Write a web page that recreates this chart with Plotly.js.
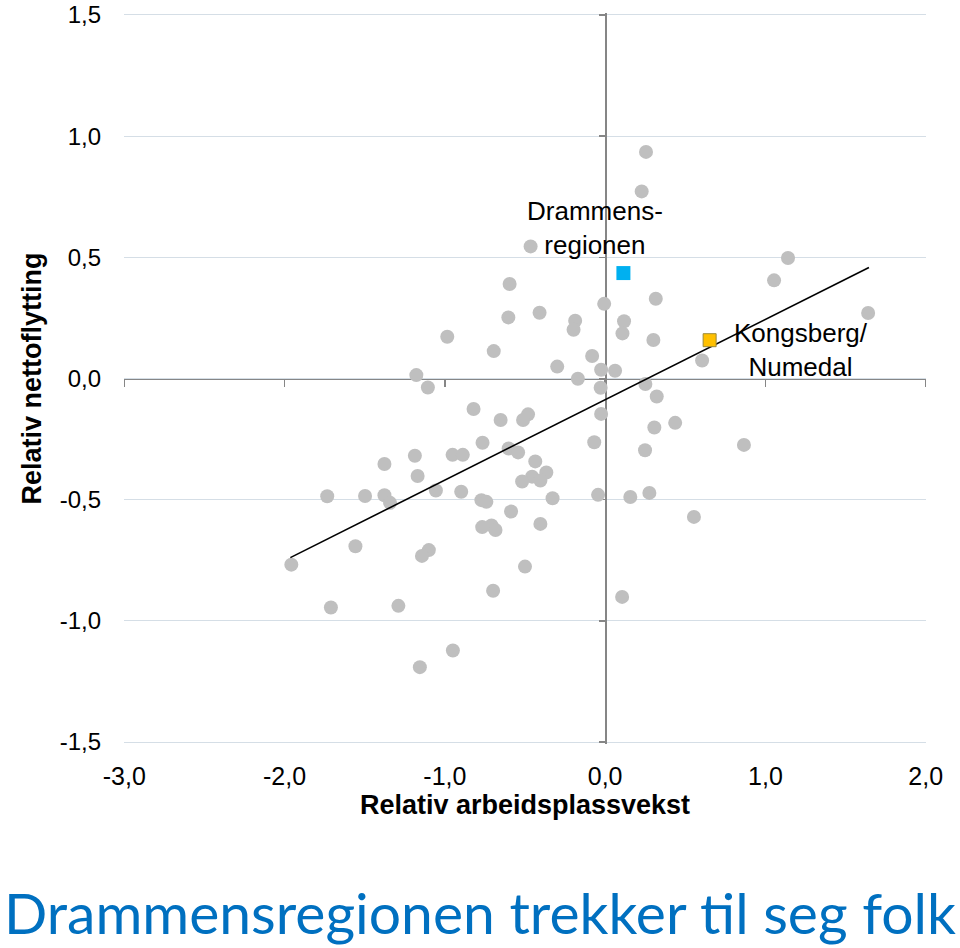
<!DOCTYPE html>
<html>
<head>
<meta charset="utf-8">
<script src="https://cdn.plot.ly/plotly-3.0.1.min.js"></script>
<style>
  html, body { margin: 0; padding: 0; background: #ffffff; }
  #chart { width: 960px; height: 948px; }
</style>
</head>
<body>
<div id="chart"></div>
<script>
// Relativ arbeidsplassvekst (x) og relativ nettoflytting (y) for regionene
const regionX = [
  0.255, 0.228, -0.465, 1.141, 1.054, -0.596, 0.316, -0.006, -0.409, -0.604,
  -0.187, 0.118, -0.197, 0.108, -0.985, 0.301, 1.641, -0.695, -0.081, 0.605,
  -0.299, -0.025, 0.062, -1.178, -0.170, -1.106, 0.251, -0.028, 0.322, -0.821,
  -0.025, -0.652, -0.481, -0.512, 0.437, 0.307, -0.765, -0.068, 0.866, -1.187,
  -0.952, -0.888, -0.602, -0.543, 0.249, -1.377, -0.436, -1.170, -0.367, -0.456,
  -0.404, -0.518, -1.056, -0.898, -1.734, -1.498, -1.377, -1.342, -0.772, -0.741,
  -0.328, -0.044, 0.157, 0.276, -0.587, 0.554, -0.404, -0.767, -0.709, -0.684,
  -1.100, -1.143, -1.558, -1.958, -0.500, -0.699, -1.711, -1.290, 0.106, -1.156,
  -0.950
];
const regionY = [
  0.935, 0.772, 0.545, 0.497, 0.405, 0.390, 0.329, 0.308, 0.271, 0.252,
  0.238, 0.236, 0.201, 0.186, 0.172, 0.159, 0.270, 0.113, 0.093, 0.074,
  0.049, 0.036, 0.032, 0.014, -0.001, -0.037, -0.023, -0.038, -0.074, -0.126,
  -0.146, -0.171, -0.148, -0.171, -0.183, -0.202, -0.265, -0.263, -0.274, -0.319,
  -0.315, -0.315, -0.289, -0.305, -0.296, -0.353, -0.342, -0.402, -0.388, -0.405,
  -0.421, -0.425, -0.462, -0.467, -0.486, -0.485, -0.482, -0.513, -0.502, -0.509,
  -0.494, -0.480, -0.489, -0.472, -0.549, -0.571, -0.600, -0.613, -0.606, -0.625,
  -0.708, -0.732, -0.692, -0.768, -0.776, -0.876, -0.945, -0.938, -0.901, -1.191,
  -1.122
];

// Trendlinje (endepunkter avlest)
const trendX = [-1.964, 1.646];
const trendY = [-0.739, 0.458];

// Uthevede regioner
const drammenX = [0.114];
const drammenY = [0.435];
const kongsbergX = [0.652];
const kongsbergY = [0.158];

// Aksemerker
const xTickVals = [-3, -2, -1, 0, 1, 2];
const xTickText = ['-3,0', '-2,0', '-1,0', '0,0', '1,0', '2,0'];
const yTickVals = [-1.5, -1, -0.5, 0, 0.5, 1, 1.5];
const yTickText = ['-1,5', '-1,0', '-0,5', '0,0', '0,5', '1,0', '1,5'];

const FONT = 'Liberation Sans, Arial, sans-serif';
const AXIS_GRAY = '#868686';
const X_RANGE = [-3.002, 2.002];
const Y_RANGE = [-1.508, 1.508];

const traces = [
  {
    type: 'scatter', mode: 'markers',
    x: regionX, y: regionY,
    marker: { color: '#bfbfbf', size: 14, line: { width: 0 } },
    hoverinfo: 'x+y', showlegend: false
  },
  {
    type: 'scatter', mode: 'lines',
    x: trendX, y: trendY,
    line: { color: '#000000', width: 1.6 },
    hoverinfo: 'skip', showlegend: false
  },
  {
    type: 'scatter', mode: 'markers',
    x: drammenX, y: drammenY,
    marker: { color: '#00b0f0', size: 14, symbol: 'square', line: { width: 0 } },
    showlegend: false
  },
  {
    type: 'scatter', mode: 'markers',
    x: kongsbergX, y: kongsbergY,
    marker: { color: '#ffc000', size: 13, symbol: 'square', line: { color: '#9c8a3a', width: 1 } },
    showlegend: false
  },
  {
    type: 'scatter', mode: 'markers',
    x: [null], y: [null], xaxis: 'x2', yaxis: 'y2',
    hoverinfo: 'skip', showlegend: false
  }
];

const layout = {
  width: 960, height: 948,
  margin: { l: 124, r: 34, t: 13, b: 204, pad: 0 },
  paper_bgcolor: '#ffffff', plot_bgcolor: '#ffffff',
  font: { family: FONT, color: '#000000' },
  showlegend: false,
  title: {
    text: 'Drammensregionen trekker til seg folk',
    font: { family: 'Lato, Open Sans, sans-serif', size: 57, color: '#0070c0' },
    xref: 'container', yref: 'container',
    x: 0.5, xanchor: 'center', y: 0.036, yanchor: 'middle'
  },
  // axes drawn through zero, with tick marks
  xaxis: {
    range: X_RANGE, anchor: 'free', position: 0.5,
    tickvals: xTickVals, showticklabels: false,
    ticks: 'outside', ticklen: 7, tickcolor: AXIS_GRAY, tickwidth: 1.3,
    showline: true, linecolor: AXIS_GRAY, linewidth: 1.3,
    showgrid: false, zeroline: false, layer: 'below traces', fixedrange: true
  },
  yaxis: {
    range: Y_RANGE, anchor: 'free', position: 0.6,
    tickvals: yTickVals, showticklabels: false,
    ticks: 'outside', ticklen: 6, tickcolor: AXIS_GRAY, tickwidth: 1.3,
    showline: true, linecolor: AXIS_GRAY, linewidth: 1.3,
    showgrid: true, gridcolor: '#d5dee6', gridwidth: 1,
    zeroline: false, layer: 'below traces', fixedrange: true
  },
  // label axes at the plot edges
  xaxis2: {
    range: X_RANGE, overlaying: 'x', anchor: 'y2', side: 'bottom',
    tickvals: xTickVals, ticktext: xTickText,
    tickfont: { family: FONT, size: 25, color: '#000000' },
    ticks: '', ticklabelstandoff: 15, ticklabeloverflow: 'allow',
    showline: false, showgrid: false, zeroline: false,
    title: { text: 'Relativ arbeidsplassvekst', font: { family: FONT, size: 27, color: '#000000', weight: 'bold' }, standoff: 0 },
    automargin: false, fixedrange: true
  },
  yaxis2: {
    range: Y_RANGE, overlaying: 'y', anchor: 'x2', side: 'left',
    tickvals: yTickVals, ticktext: yTickText,
    tickfont: { family: FONT, size: 24, color: '#000000' },
    ticks: '', ticklabelstandoff: 22, ticklabeloverflow: 'allow',
    showline: false, showgrid: false, zeroline: false,
    title: { text: 'Relativ nettoflytting', font: { family: FONT, size: 27, color: '#000000', weight: 'bold' }, standoff: 10 },
    automargin: false, fixedrange: true
  },
  annotations: [
    {
      x: -0.062, y: 0.621, xref: 'x', yref: 'y',
      text: 'Drammens-<br>regionen', showarrow: false,
      font: { family: FONT, size: 26, color: '#000000' },
      align: 'center', xanchor: 'center', yanchor: 'middle'
    },
    {
      x: 1.22, y: 0.116, xref: 'x', yref: 'y',
      text: 'Kongsberg/<br>Numedal', showarrow: false,
      font: { family: FONT, size: 26, color: '#000000' },
      align: 'center', xanchor: 'center', yanchor: 'middle'
    }
  ]
};

Plotly.newPlot('chart', traces, layout, { displayModeBar: false, staticPlot: true });
</script>
</body>
</html>
